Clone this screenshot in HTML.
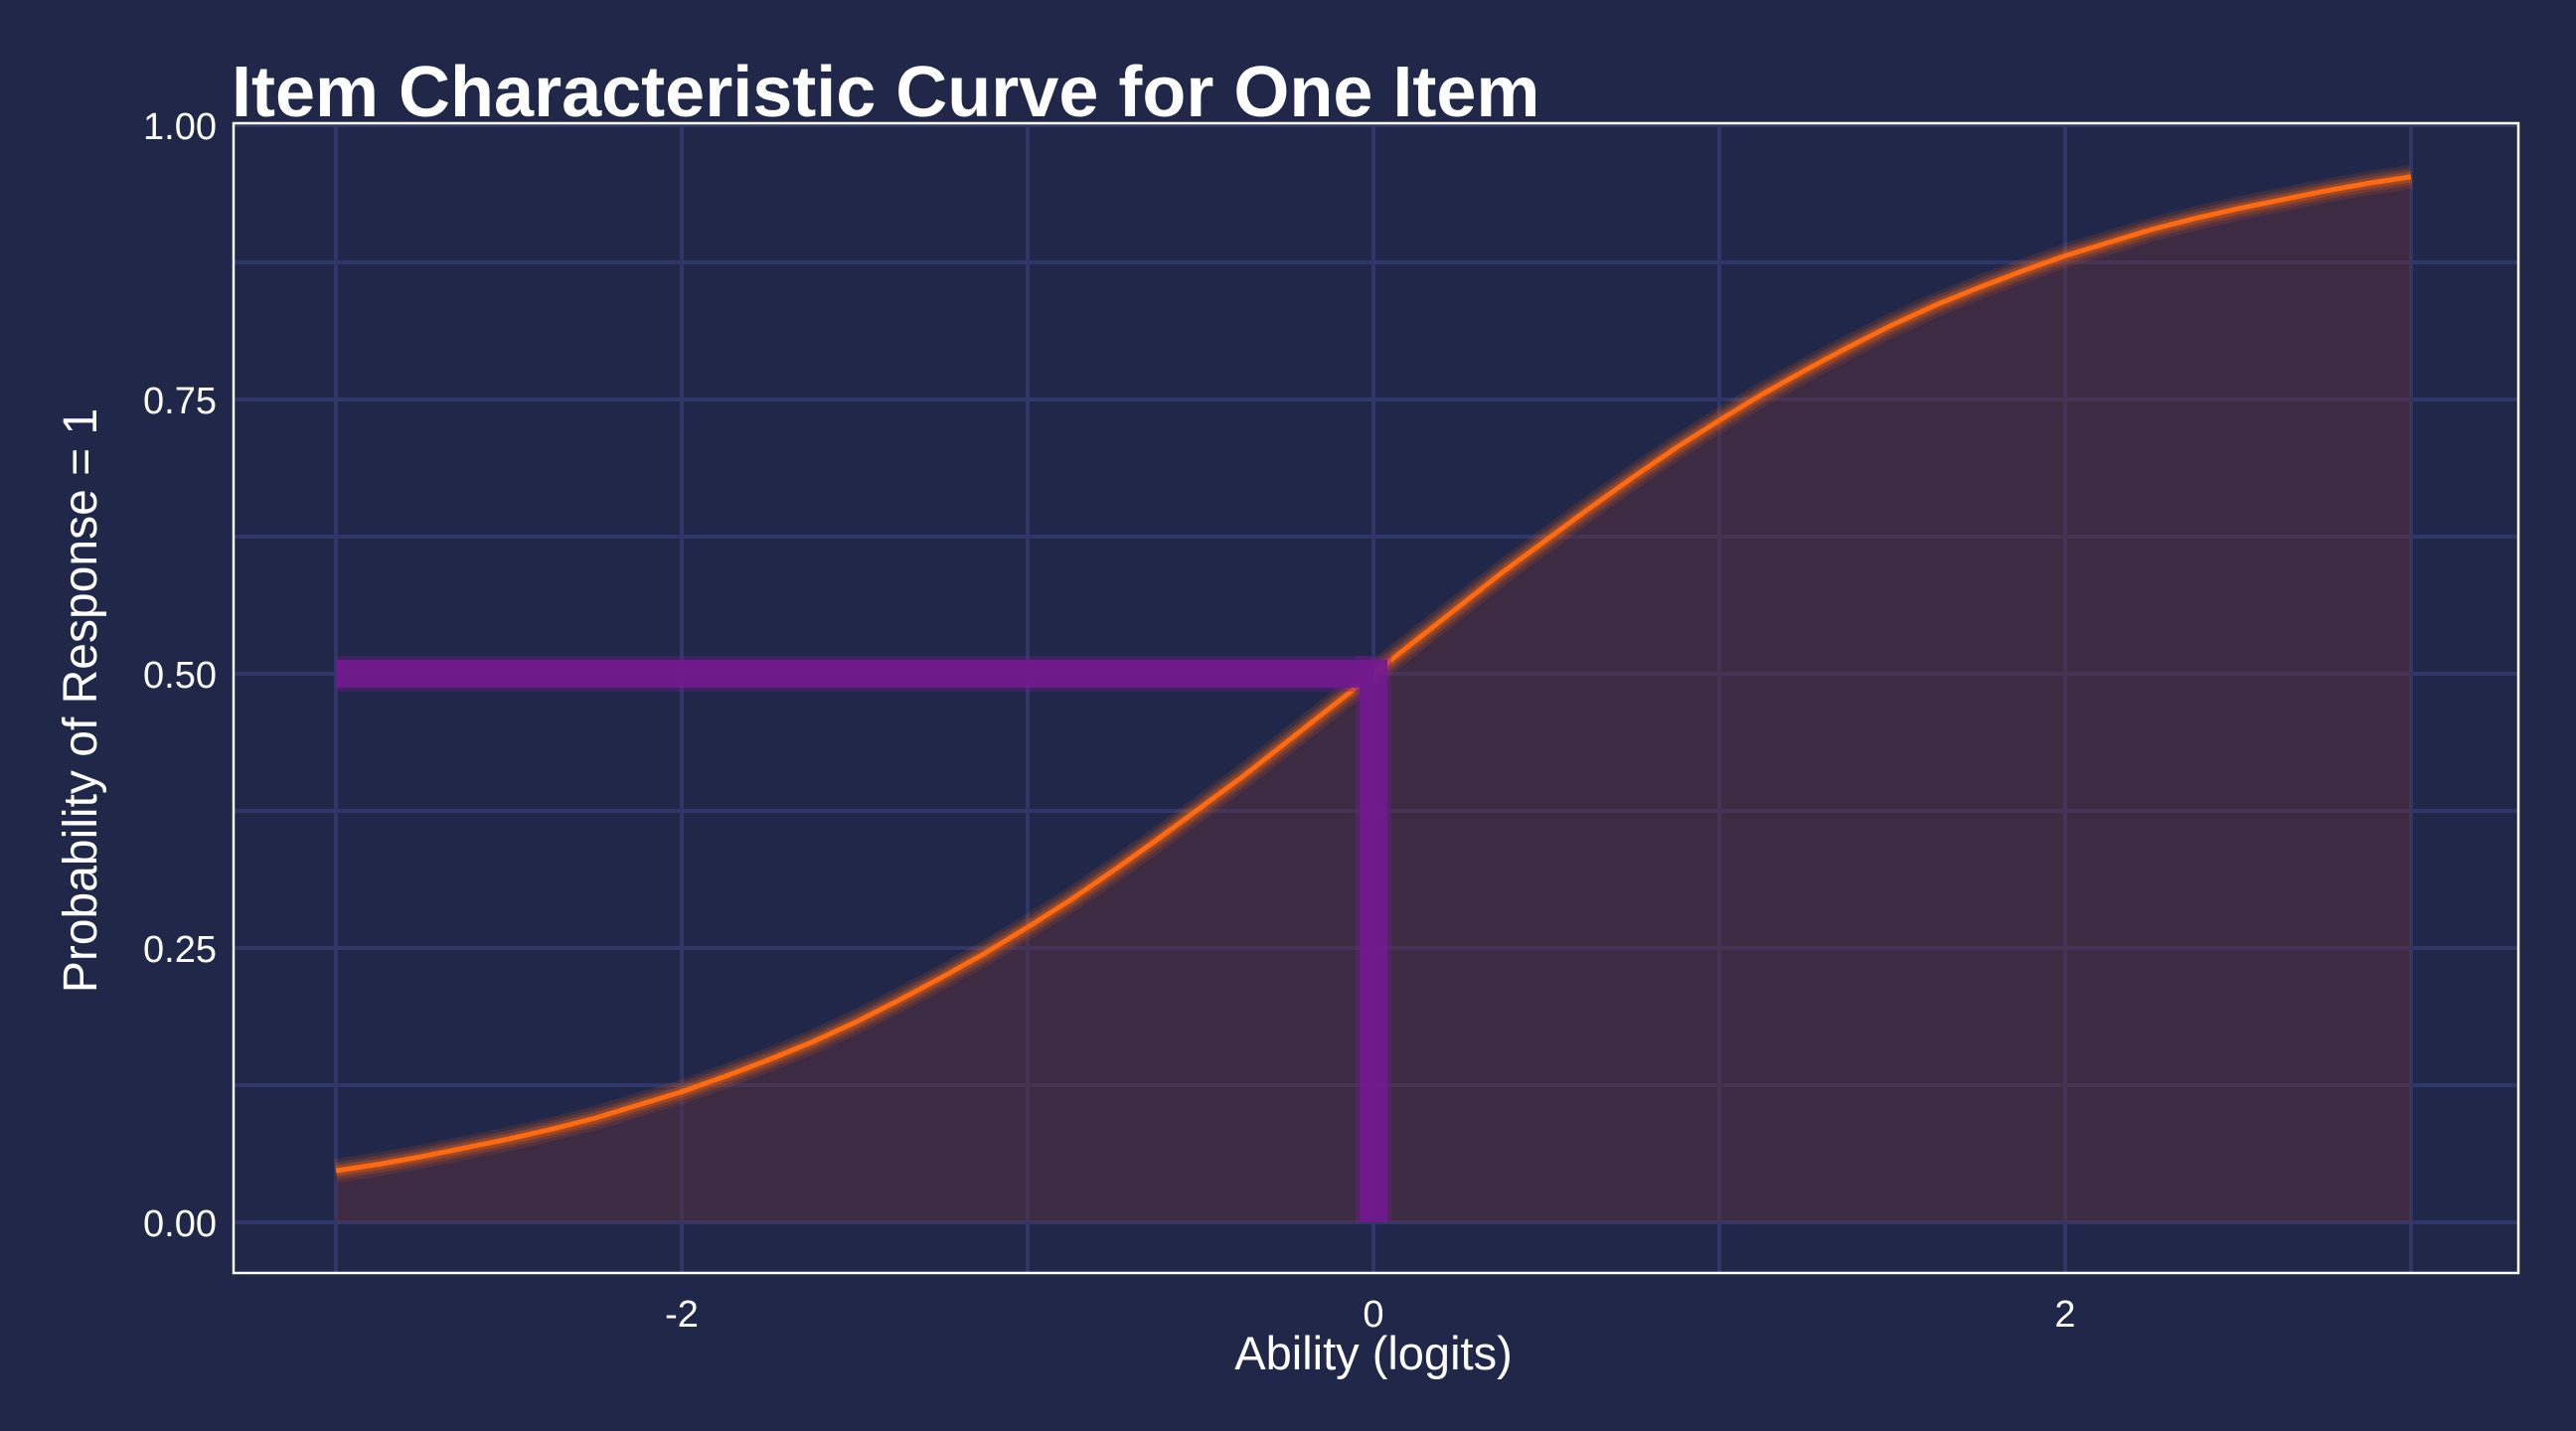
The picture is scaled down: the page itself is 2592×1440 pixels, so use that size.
<!DOCTYPE html>
<html><head><meta charset="utf-8"><style>
html,body{margin:0;padding:0;background:#212749;}
svg{display:block;font-family:"Liberation Sans",sans-serif;}
</style></head><body>
<svg id="chart" width="2592" height="1440" viewBox="0 0 2592 1440" xmlns="http://www.w3.org/2000/svg">
<rect x="0" y="0" width="2592" height="1440" fill="#212749"/>
<g id="grid"></g>
<g id="marks"></g>
<rect x="235" y="124" width="2299" height="1157" fill="none" stroke="#ffffff" stroke-width="2.5"/>
<g id="ticks"></g>
<text x="233" y="117" fill="#ffffff" font-size="72" font-weight="bold">Item Characteristic Curve for One Item</text>
<text x="1382" y="1378" fill="#ffffff" font-size="47" text-anchor="middle">Ability (logits)</text>
<text transform="translate(97,705) rotate(-90)" fill="#ffffff" font-size="48" text-anchor="middle">Probability of Response = 1</text>
</svg>
<script>
const thetas=[-3,-2.875,-2.75,-2.625,-2.5,-2.375,-2.25,-2.125,-2,-1.875,-1.75,-1.625,-1.5,-1.375,-1.25,-1.125,-1,-0.875,-0.75,-0.625,-0.5,-0.375,-0.25,-0.125,0,0.125,0.25,0.375,0.5,0.625,0.75,0.875,1,1.125,1.25,1.375,1.5,1.625,1.75,1.875,2,2.125,2.25,2.375,2.5,2.625,2.75,2.875,3];
const probs=[0.047,0.053,0.060,0.068,0.076,0.085,0.095,0.107,0.119,0.133,0.148,0.164,0.182,0.202,0.223,0.245,0.269,0.294,0.321,0.349,0.378,0.407,0.438,0.469,0.5,0.531,0.562,0.593,0.622,0.651,0.679,0.706,0.731,0.755,0.777,0.798,0.818,0.836,0.852,0.867,0.881,0.893,0.905,0.915,0.924,0.932,0.940,0.947,0.953];
const refTheta=[0];
const refProb=[0.5];
const xTicks=[-2,0,2];
const xTickLabels=["-2","0","2"];
const yTicks=[0,0.25,0.5,0.75,1];
const yTickLabels=["0.00","0.25","0.50","0.75","1.00"];
const xMinor=[-3,-1,1,3];
const yMinor=[0.125,0.375,0.625,0.875];

const NS="http://www.w3.org/2000/svg";
const X=v=>1382+v*348;
const Y=v=>1230-v*1104;
const L=235,R=2534,T=124,B=1281;
function mk(tag,attrs,parent){const e=document.createElementNS(NS,tag);for(const k in attrs)e.setAttribute(k,attrs[k]);parent.appendChild(e);return e;}
const grid=document.getElementById('grid'),marks=document.getElementById('marks'),ticks=document.getElementById('ticks');
xTicks.concat(xMinor).forEach(v=>{const l=mk('line',{x1:X(v),x2:X(v),y1:T,y2:B,stroke:'#2f3768','stroke-width':4},grid);

});
yTicks.concat(yMinor).forEach(v=>{const l=mk('line',{x1:L,x2:R,y1:Y(v),y2:Y(v),stroke:'#2f3768','stroke-width':4},grid);

});
let pts=thetas.map((t,i)=>X(t)+','+Y(probs[i]));
const area=mk('polygon',{points:X(thetas[0])+','+Y(0)+' '+pts.join(' ')+' '+X(thetas[thetas.length-1])+','+Y(0),fill:'#5a3040','fill-opacity':0.5},marks);


[[24,0.12],[17,0.18],[11,0.28]].forEach(([w,o])=>{const g=mk('polyline',{points:pts.join(' '),fill:'none',stroke:'#ff6a10','stroke-width':w,'stroke-opacity':o,'stroke-linejoin':'round'},marks);

});
const c=mk('polyline',{points:pts.join(' '),fill:'none',stroke:'#ff6a10','stroke-width':5,'stroke-linejoin':'round'},marks);


const rx=X(refTheta[0]),ry=Y(refProb[0]);
[[36,0.35],[28,0.9]].forEach(([w,o])=>{
const h=mk('line',{x1:X(thetas[0]),x2:rx,y1:ry,y2:ry,stroke:'#72198f','stroke-width':w,'stroke-opacity':o},marks);


const v=mk('line',{x1:rx,x2:rx,y1:ry-w/2,y2:Y(0),stroke:'#72198f','stroke-width':w,'stroke-opacity':o},marks);

});
xTicks.forEach((v,i)=>{const t=mk('text',{x:X(v),y:1335,fill:'#ffffff','font-size':38,'text-anchor':'middle'},ticks);t.textContent=xTickLabels[i];

});
yTicks.forEach((v,i)=>{const t=mk('text',{x:218,y:Y(v)+14,fill:'#ffffff','font-size':38,'text-anchor':'end'},ticks);t.textContent=yTickLabels[i];

});
</script>
</body></html>
